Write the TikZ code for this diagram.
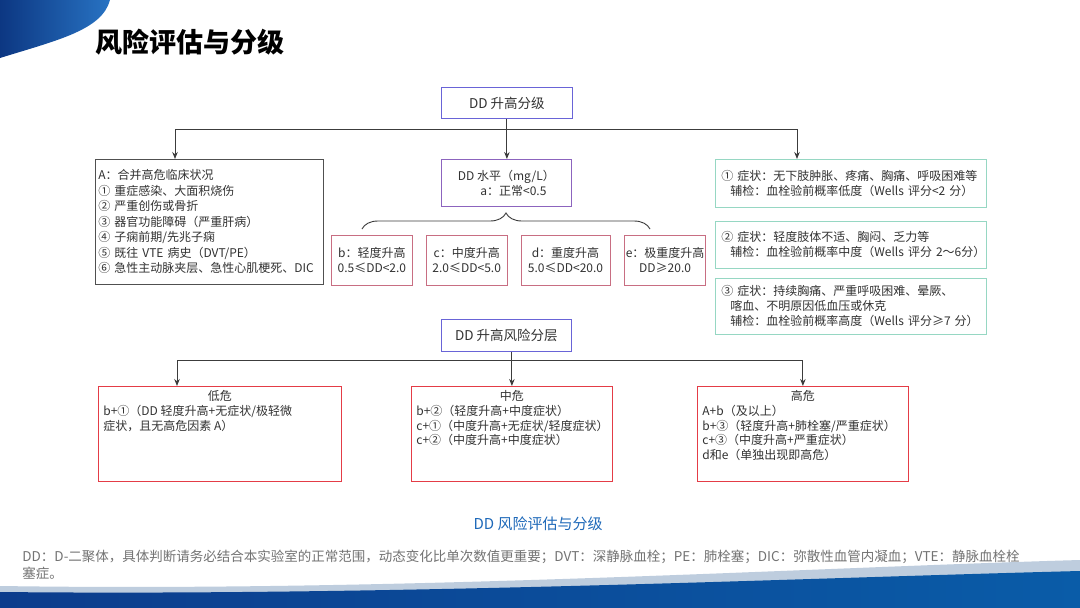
\documentclass[tikz,border=0pt]{standalone}
\usepackage{fontspec}
\setmainfont{Noto Sans CJK SC}
\usetikzlibrary{positioning, arrows.meta, decorations.pathreplacing}

\definecolor{boxblue}{RGB}{105,100,215}
\definecolor{boxpurple}{RGB}{140,100,190}
\definecolor{rngpink}{RGB}{200,110,130}
\definecolor{critgray}{RGB}{80,80,80}
\definecolor{symteal}{RGB}{150,215,195}
\definecolor{riskred}{RGB}{228,60,70}
\definecolor{linegray}{RGB}{60,60,60}
\definecolor{txtgray}{RGB}{50,50,50}
\definecolor{capblue}{RGB}{30,105,185}
\definecolor{notegray}{RGB}{115,115,115}
\definecolor{navy}{RGB}{12,55,130}
\definecolor{swooshblue}{RGB}{40,115,195}
\definecolor{bandlight}{RGB}{190,205,222}
\definecolor{banddarkL}{RGB}{12,60,140}
\definecolor{banddarkR}{RGB}{10,92,168}

\begin{document}
\begin{tikzpicture}[x=1pt, y=-1pt, >={Stealth[length=7pt,width=5.5pt]},
        font=\fontsize{12}{15}\selectfont, text=txtgray,
        every node/.style={line width=0.8pt},
        link/.style={draw=linegray, line width=0.9pt},
        gradebox/.style={draw=boxblue, anchor=north west, minimum width=131pt, minimum height=31pt, font=\fontsize{13.5}{16}\selectfont},
        lvlbox/.style={draw=boxpurple, anchor=north west, align=center, minimum width=130pt, minimum height=47pt},
        critbox/.style={draw=critgray, anchor=north west, align=left, inner xsep=3pt, text width=222pt, minimum height=125pt, font=\fontsize{12}{15.5}\selectfont},
        rngbox/.style={draw=rngpink, align=center, inner xsep=1pt, minimum height=50pt},
        symbox/.style={draw=symteal, anchor=north west, align=left, inner xsep=6pt, text width=259pt},
        riskbox/.style={draw=riskred, anchor=north west, inner xsep=5pt, inner ysep=4pt, font=\fontsize{12}{14.8}\selectfont},
        bracestyle/.style={draw=linegray, line width=0.9pt, decorate, decoration={brace, amplitude=16pt}}]

    \useasboundingbox (0,0) rectangle (1080,608);
    \fill[white] (0,0) rectangle (1080,608);

    \shade[left color=navy, right color=swooshblue] (0,0) -- (110,0) .. controls (102,30) and (58,40) .. (0,58) -- cycle;
    \fill[bandlight] (0,586) .. controls (400,592) and (800,568) .. (1080,560) -- (1080,608) -- (0,608) -- cycle;
    \shade[left color=banddarkL, right color=banddarkR] (0,592) .. controls (400,596) and (800,578) .. (1080,571) -- (1080,608) -- (0,608) -- cycle;

    \node[anchor=west, font=\fontsize{27}{31}\selectfont\bfseries, text=black] (title) at (92,42) {风险评估与分级};

    \node[gradebox] (grade) at (441,87) {DD 升高分级};
    \node[critbox] (crit) at (95,159) {A：合并高危临床状况\\① 重症感染、大面积烧伤\\② 严重创伤或骨折\\③ 器官功能障碍（严重肝病）\\④ 子痫前期/先兆子痫\\⑤ 既往 VTE 病史（DVT/PE）\\⑥ 急性主动脉夹层、急性心肌梗死、DIC};
    \node[lvlbox] (level) at (441,159) {DD 水平（mg/L）\\\hspace*{14pt}a：正常<0.5};

    \node[rngbox, anchor=north west, minimum width=81pt] (rb) at (331,235) {b：轻度升高\\0.5≤DD<2.0};
    \node[rngbox, minimum width=81pt, right=13pt of rb] (rc) {c：中度升高\\2.0≤DD<5.0};
    \node[rngbox, minimum width=89pt, right=13pt of rc] (rd) {d：重度升高\\5.0≤DD<20.0};
    \node[rngbox, minimum width=80pt, right=14pt of rd] (re) {e：极重度升高\\DD≥20.0};

    \node[symbox, minimum height=48pt] (s1) at (715,159) {① 症状：无下肢肿胀、疼痛、胸痛、呼吸困难等\\\hspace*{9pt}辅检：血栓验前概率低度（Wells~评分<2~分）};
    \node[symbox, minimum height=47pt] (s2) at (715,221) {② 症状：轻度肢体不适、胸闷、乏力等\\\hspace*{9pt}辅检：血栓验前概率中度（Wells~评分~2～6分）};
    \node[symbox, minimum height=56pt] (s3) at (715,278) {③ 症状：持续胸痛、严重呼吸困难、晕厥、\\\hspace*{9pt}喀血、不明原因低血压或休克\\\hspace*{9pt}辅检：血栓验前概率高度（Wells~评分≥7~分）};

    \node[gradebox, minimum width=130pt, minimum height=32pt] (strat) at (441,319) {DD 升高风险分层};

    \node[riskbox] (low) at (98,386) {\parbox[c][87pt][t]{233pt}{\makebox[\hsize]{低危}\\b+①（DD 轻度升高+无症状/极轻微\\症状，且无高危因素 A）}};
    \node[riskbox] (mid) at (411,386) {\parbox[c][87pt][t]{191pt}{\makebox[\hsize]{中危}\\b+②（轻度升高+中度症状）\\c+①（中度升高+无症状/轻度症状）\\c+②（中度升高+中度症状）}};
    \node[riskbox] (high) at (697,386) {\parbox[c][87pt][t]{201pt}{\makebox[\hsize]{高危}\\A+b（及以上）\\b+③（轻度升高+肺栓塞/严重症状）\\c+③（中度升高+严重症状）\\d和e（单独出现即高危）}};

    \node[font=\fontsize{15}{18}\selectfont, text=capblue] (cap) at (538,524) {DD 风险评估与分级};
    \node[anchor=north west, align=left, inner sep=0pt, font=\fontsize{13.5}{17}\selectfont, text=notegray] (note) at (22,550) {DD：D-二聚体，具体判断请务必结合本实验室的正常范围，动态变化比单次数值更重要；DVT：深静脉血栓；PE：肺栓塞；DIC：弥散性血管内凝血；VTE：静脉血栓栓\\塞症。};

    \coordinate (topL) at (175,129);
    \coordinate (topR) at (797,129);
    \coordinate (botL) at (177,360);
    \coordinate (brL) at (362,229);
    \coordinate (brR) at (650,229);

    \draw[link, ->] (grade.south) -- (grade.south |- level.north);
    \draw[link] (topL) -- (topR);
    \draw[link, ->] (topL) -- (topL |- crit.north);
    \draw[link, ->] (topR) -- (topR |- s1.north);
    \draw[bracestyle] (brL) -- (brR);

    \draw[link] (botL) -- (high.north |- botL);
    \draw[link, ->] (botL) -- (botL |- low.north);
    \draw[link, ->] (strat.south -| mid.north) -- (mid.north);
    \draw[link, ->] (high.north |- botL) -- (high.north);
\end{tikzpicture}
\end{document}
